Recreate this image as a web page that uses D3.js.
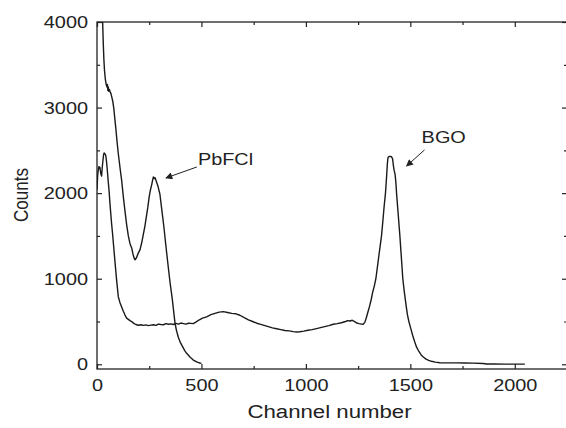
<!DOCTYPE html>
<html lang="en">

<head>
    <meta charset="utf-8">
    <title>Counts vs channel</title>
    <script src="https://cdn.jsdelivr.net/npm/d3@7"></script>
</head>
<style>
    body { margin: 0; background: #fff; }
    text { font-family: "Liberation Sans", Arial, Helvetica, sans-serif; fill: #222; }
</style>

<body>
    <script type="text/javascript">
        // spectra: [channel, counts]
        var pbfcl = [[24, 4400], [27, 4000], [30, 3750], [33, 3560], [36, 3430], [40, 3330], [44, 3270], [48, 3240],
            [50, 3270], [52, 3200], [54, 3240], [57, 3190], [60, 3210], [63, 3180], [66, 3170], [70, 3130], [75, 3080],
            [80, 3000], [85, 2880], [90, 2760], [96, 2600], [102, 2460], [110, 2300], [118, 2150], [126, 1960],
            [134, 1790], [142, 1630], [150, 1500], [158, 1410], [166, 1360], [172, 1290], [178, 1240], [182, 1220],
            [188, 1240], [196, 1290], [206, 1340], [214, 1420], [222, 1520], [229, 1610], [236, 1720], [243, 1830],
            [250, 1960], [256, 2040], [262, 2100], [266, 2150], [270, 2190], [274, 2170], [278, 2180], [285, 2130],
            [292, 2080], [301, 1990], [310, 1810], [320, 1610], [330, 1380], [341, 1140], [350, 950], [360, 770],
            [366, 640], [373, 490], [380, 400], [390, 310], [400, 250], [411, 200], [420, 160], [429, 128],
            [445, 85], [461, 50], [480, 25], [492, 15], [500, 10]];

        var bgo = [[0, 2040], [3, 2200], [5, 2250], [9, 2310], [14, 2300], [18, 2230], [22, 2200], [25, 2300],
            [28, 2370], [31, 2440], [34, 2470], [38, 2460], [42, 2440], [46, 2360], [50, 2250], [54, 2130],
            [58, 2020], [62, 1880], [66, 1760], [70, 1640], [74, 1540], [80, 1370], [86, 1200], [94, 980],
            [102, 790], [110, 720], [118, 670], [126, 620], [134, 575], [142, 540], [150, 525], [158, 510],
            [166, 500], [176, 478], [186, 465], [198, 456], [210, 462], [222, 455], [234, 460], [246, 452],
            [258, 458], [270, 462], [282, 455], [294, 470], [306, 465], [318, 462], [330, 475], [342, 468],
            [354, 472], [366, 465], [378, 478], [390, 470], [402, 482], [414, 476], [426, 470], [438, 480],
            [450, 478], [461, 475], [475, 495], [490, 520], [505, 540], [525, 555], [545, 580], [565, 595],
            [585, 610], [605, 615], [625, 605], [645, 595], [665, 590], [684, 573], [705, 545], [725, 520],
            [745, 500], [765, 480], [780, 470], [800, 455], [820, 440], [840, 425], [860, 415], [880, 405],
            [900, 395], [920, 390], [940, 382], [955, 378], [971, 380], [990, 388], [1010, 398], [1030, 405],
            [1051, 417], [1070, 428], [1090, 440], [1110, 452], [1131, 468], [1150, 475], [1170, 485],
            [1190, 500], [1200, 510], [1211, 506], [1222, 515], [1233, 498], [1243, 483], [1255, 475],
            [1266, 470], [1274, 468], [1282, 490], [1290, 550], [1298, 620], [1305, 680], [1313, 760],
            [1320, 845], [1328, 920], [1335, 1000], [1342, 1130], [1350, 1280], [1356, 1390], [1362, 1500],
            [1368, 1660], [1374, 1830], [1381, 2000], [1386, 2180], [1390, 2340], [1393, 2415], [1398, 2428],
            [1404, 2430], [1410, 2426], [1415, 2400], [1419, 2320], [1423, 2260], [1427, 2220], [1431, 2120],
            [1434, 2000], [1442, 1750], [1450, 1500], [1457, 1250], [1464, 1000], [1471, 850], [1479, 700],
            [1486, 580], [1493, 500], [1502, 420], [1511, 340], [1520, 270], [1530, 200], [1541, 150],
            [1552, 110], [1562, 86], [1575, 60], [1588, 45], [1601, 35], [1620, 25], [1641, 18], [1680, 17],
            [1720, 16], [1760, 15], [1800, 14], [1849, 10], [1865, 3], [1900, 3], [1950, 2], [2000, 2], [2048, 2]];

        var xMajor = [0, 500, 1000, 1500, 2000];
        var xMinor = [250, 750, 1250, 1750, 2250];
        var yMajor = [0, 1000, 2000, 3000, 4000];
        var yMinor = [500, 1500, 2500, 3500];

        // annotations: label, text anchor point, arrow tail, arrow tip (data units)
        var noteLabels = ["PbFCl", "BGO"];
        var notePos = [[483, 2328], [1554, 2587]];
        var noteTail = [[478, 2306], [1568, 2505]];
        var noteTip = [[330, 2177], [1482, 2317]];

        var width = 566, height = 428;
        // note: "top" is taken by window.top, so prefix these
        var plotL = 97, plotR = 567, plotT = 22, plotB = 369;
        var stretch = 1.17; // glyphs in the picture are a bit wider than Arial

        var svg = d3.select("body").append("svg")
            .attr("width", width)
            .attr("height", height);

        var x = d3.scaleLinear().domain([0, 2250]).range([plotL, plotR]);
        var y = d3.scaleLinear().domain([-55, 4000]).range([plotB, plotT]);

        svg.append("clipPath").attr("id", "plot")
            .append("rect")
            .attr("x", plotL).attr("y", plotT)
            .attr("width", plotR - plotL).attr("height", plotB - plotT);

        function ticks(axis, g, values, size, labels) {
            g.call(axis.tickValues(values).tickSizeInner(-size).tickSizeOuter(0)
                .tickPadding(labels ? 10 : 0)
                .tickFormat(labels ? d3.format("d") : ""));
            g.select(".domain").remove();
            g.selectAll("line").attr("stroke", "#222").attr("stroke-width", 1.2);
        }

        // bottom
        var gb = svg.append("g").attr("transform", `translate(0,${plotB})`);
        ticks(d3.axisBottom(x), gb, xMajor, 5, true);
        gb.selectAll("text").attr("font-size", 17).attr("fill", "#222")
            .attr("font-family", "Liberation Sans, Arial, sans-serif")
            .attr("transform", `scale(${stretch},1)`);
        ticks(d3.axisBottom(x), svg.append("g").attr("transform", `translate(0,${plotB})`), xMinor, 3, false);

        // top
        ticks(d3.axisTop(x), svg.append("g").attr("transform", `translate(0,${plotT})`), xMajor, 5, false);
        ticks(d3.axisTop(x), svg.append("g").attr("transform", `translate(0,${plotT})`), xMinor, 3, false);

        // left
        var gl = svg.append("g").attr("transform", `translate(${plotL},0)`);
        ticks(d3.axisLeft(y), gl, yMajor, 5, true);
        gl.selectAll("text").attr("font-size", 17).attr("fill", "#222")
            .attr("font-family", "Liberation Sans, Arial, sans-serif")
            .attr("x", -9 / stretch)
            .attr("transform", `scale(${stretch},1)`);
        ticks(d3.axisLeft(y), svg.append("g").attr("transform", `translate(${plotL},0)`), yMinor, 3, false);

        // right
        ticks(d3.axisRight(y), svg.append("g").attr("transform", `translate(${plotR},0)`), yMajor, 5, false);
        ticks(d3.axisRight(y), svg.append("g").attr("transform", `translate(${plotR},0)`), yMinor, 3, false);

        svg.append("rect")
            .attr("x", plotL).attr("y", plotT)
            .attr("width", plotR - plotL).attr("height", plotB - plotT)
            .attr("fill", "none")
            .attr("stroke", "#222")
            .attr("stroke-width", 1.3);

        var line = d3.line()
            .x(d => x(d[0]))
            .y(d => y(d[1]));

        [pbfcl, bgo].forEach(function (s) {
            svg.append("path")
                .datum(s)
                .attr("clip-path", "url(#plot)")
                .attr("d", line)
                .attr("fill", "none")
                .attr("stroke", "#1a1a1a")
                .attr("stroke-width", 1.4)
                .attr("stroke-linejoin", "round");
        });

        // arrows
        svg.append("defs").append("marker")
            .attr("id", "head")
            .attr("viewBox", "0 0 10 10")
            .attr("refX", 9).attr("refY", 5)
            .attr("markerWidth", 9).attr("markerHeight", 7)
            .attr("markerUnits", "userSpaceOnUse")
            .attr("orient", "auto")
            .append("path")
            .attr("d", "M0,0L10,5L0,10z")
            .attr("fill", "#222");

        noteLabels.forEach(function (label, i) {
            svg.append("line")
                .attr("x1", x(noteTail[i][0])).attr("y1", y(noteTail[i][1]))
                .attr("x2", x(noteTip[i][0])).attr("y2", y(noteTip[i][1]))
                .attr("stroke", "#222")
                .attr("stroke-width", 1)
                .attr("marker-end", "url(#head)");
            svg.append("text")
                .attr("transform", `translate(${x(notePos[i][0])},${y(notePos[i][1])}) scale(${stretch},1)`)
                .attr("font-size", 17)
                .text(label);
        });

        // axis titles
        svg.append("text")
            .attr("transform", `translate(${(plotL + width) / 2 - 2},418) scale(${stretch},1)`)
            .attr("text-anchor", "middle")
            .attr("font-size", 19)
            .text("Channel number");

        svg.append("text")
            .attr("transform", `translate(28,195) rotate(-90) scale(1,${stretch})`)
            .attr("text-anchor", "middle")
            .attr("font-size", 17)
            .text("Counts");
    </script>

</body>

</html>
